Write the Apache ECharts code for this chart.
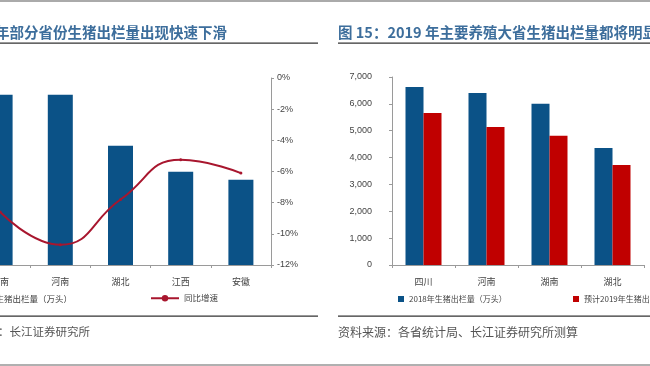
<!DOCTYPE html>
<html>
<head>
<meta charset="utf-8">
<script src="https://cdn.jsdelivr.net/npm/echarts@6/dist/echarts.min.js"></script>
<style>html,body{margin:0;padding:0;background:#fff;}#c{width:650px;height:366px;}</style>
</head>
<body>
<div id="c"></div>
<script>
// Left chart (partially visible)
var leftCategories = ['湖南', '河南', '湖北', '江西', '安徽'];
var leftOutput = [6370, 6370, 4460, 3490, 3190];
var leftGrowth = [-8.6, -10.7, -7.8, -5.25, -6.1];
var leftGrowthTicks = [0, -2, -4, -6, -8, -10, -12];

// Right chart
var rightCategories = ['四川', '河南', '湖南', '湖北'];
var output2018 = [6630, 6400, 6000, 4360];
var output2019 = [5660, 5140, 4810, 3720];

var leftBarName = '2019年生猪出栏量（万头）';
var leftLineName = '同比增速';
var rightBarName1 = '2018年生猪出栏量（万头）';
var rightBarName2 = '预计2019年生猪出栏量（万头）';

var FONT = '"Noto Sans CJK SC", "Noto Sans", sans-serif';
var BLUE = '#0B5287';
var RED = '#C00000';
var LINE = '#A8162E';
var AXIS = '#9a9a9a';

var chart = echarts.init(document.getElementById('c'));
chart.setOption({
  animation: false,
  backgroundColor: '#fff',
  textStyle: { fontFamily: FONT },
  grid: [
    { left: -30, right: 379, top: 78, bottom: 101, outerBoundsMode: 'none', containLabel: false },
    { left: 392, right: 6, top: 77, bottom: 101, outerBoundsMode: 'none', containLabel: false }
  ],
  xAxis: [
    {
      type: 'category', gridIndex: 0, data: leftCategories,
      axisLine: { lineStyle: { color: AXIS } },
      axisTick: { show: true, length: 3, lineStyle: { color: AXIS } },
      axisLabel: { color: '#444', fontSize: 9, margin: 12, fontFamily: FONT }
    },
    {
      type: 'category', gridIndex: 1, data: rightCategories,
      axisLine: { lineStyle: { color: AXIS } },
      axisTick: { show: true, length: 3, lineStyle: { color: AXIS } },
      axisLabel: { color: '#444', fontSize: 9, margin: 12, fontFamily: FONT }
    }
  ],
  yAxis: [
    {
      type: 'value', gridIndex: 0, min: 0, max: 7000, interval: 1000,
      show: false, splitLine: { show: false }
    },
    {
      type: 'value', gridIndex: 0, position: 'right', min: -12, max: 0, interval: 2,
      axisLine: { show: true, lineStyle: { color: AXIS } },
      axisTick: { show: true, length: 3, lineStyle: { color: AXIS } },
      splitLine: { show: false },
      axisLabel: { color: '#444', fontSize: 9, margin: 6, formatter: '{value}%', fontFamily: 'Liberation Sans, Arial, sans-serif' }
    },
    {
      type: 'value', gridIndex: 1, min: 0, max: 7000, interval: 1000,
      axisLine: { show: true, lineStyle: { color: AXIS } },
      axisTick: { show: true, length: 3, lineStyle: { color: AXIS } },
      splitLine: { show: false },
      axisLabel: {
        color: '#444', fontSize: 9, margin: 20, fontFamily: 'Liberation Sans, Arial, sans-serif',
        formatter: function (v) { return v.toLocaleString('en-US'); }
      }
    }
  ],
  legend: [
    {
      data: [leftBarName], right: 578, top: 295, padding: 0, itemWidth: 6, itemHeight: 6, itemGap: 3,
      icon: 'rect', textStyle: { fontSize: 8.5, color: '#444', fontFamily: FONT }
    },
    {
      data: [leftLineName], left: 150, top: 294, padding: 0, itemWidth: 28, itemHeight: 8, itemGap: 3,
      textStyle: { fontSize: 8.5, color: '#444', fontFamily: FONT }
    },
    {
      data: [rightBarName1], left: 398, top: 295, padding: 0, itemWidth: 6, itemHeight: 6, itemGap: 3,
      icon: 'rect', textStyle: { fontSize: 8, color: '#444', fontFamily: FONT }
    },
    {
      data: [rightBarName2], left: 573, top: 295, padding: 0, itemWidth: 6, itemHeight: 6, itemGap: 3,
      icon: 'rect', textStyle: { fontSize: 8, color: '#444', fontFamily: FONT }
    }
  ],
  series: [
    {
      name: leftBarName, type: 'bar', xAxisIndex: 0, yAxisIndex: 0,
      data: leftOutput, barWidth: 25, itemStyle: { color: BLUE }
    },
    {
      name: leftLineName, type: 'line', xAxisIndex: 0, yAxisIndex: 1,
      data: leftGrowth, smooth: 0.5, symbol: 'circle', symbolSize: 3,
      lineStyle: { color: LINE, width: 2 }, itemStyle: { color: LINE }, z: 5
    },
    {
      name: rightBarName1, type: 'bar', xAxisIndex: 1, yAxisIndex: 2,
      data: output2018, barWidth: 18, barGap: '0%', itemStyle: { color: BLUE }
    },
    {
      name: rightBarName2, type: 'bar', xAxisIndex: 1, yAxisIndex: 2,
      data: output2019, barWidth: 18, barGap: '0%', itemStyle: { color: RED }
    }
  ],
  graphic: [
    { type: 'rect', shape: { x: 0, y: 0, width: 650, height: 2 }, style: { fill: '#aaaaaa' } },
    { type: 'rect', shape: { x: 0, y: 364, width: 650, height: 2 }, style: { fill: '#b0b0b0' } },
    {
      type: 'text', x: 227, y: 32,
      style: { text: '图 14：2019 年部分省份生猪出栏量出现快速下滑', align: 'right', verticalAlign: 'middle',
        font: 'bold 14.5px ' + FONT, fill: '#3D6E9C' }
    },
    {
      type: 'text', x: 338, y: 32,
      style: { text: '图 15：2019 年主要养殖大省生猪出栏量都将明显下滑', align: 'left', verticalAlign: 'middle',
        font: 'bold 14.5px ' + FONT, fill: '#3D6E9C' }
    },
    { type: 'rect', shape: { x: 0, y: 42.5, width: 318, height: 1.2 }, style: { fill: '#333' } },
    { type: 'rect', shape: { x: 338, y: 42.5, width: 312, height: 1.2 }, style: { fill: '#333' } },
    { type: 'rect', shape: { x: 0, y: 315.5, width: 318, height: 1.2 }, style: { fill: '#333' } },
    { type: 'rect', shape: { x: 338, y: 315.5, width: 312, height: 1.2 }, style: { fill: '#333' } },
    {
      type: 'text', x: 90, y: 332,
      style: { text: '资料来源：长江证券研究所', align: 'right', verticalAlign: 'middle',
        font: '11.5px ' + FONT, fill: '#555' }
    },
    {
      type: 'text', x: 338, y: 332,
      style: { text: '资料来源：各省统计局、长江证券研究所测算', align: 'left', verticalAlign: 'middle',
        font: '12px ' + FONT, fill: '#555' }
    }
  ]
});
</script>
</body>
</html>
